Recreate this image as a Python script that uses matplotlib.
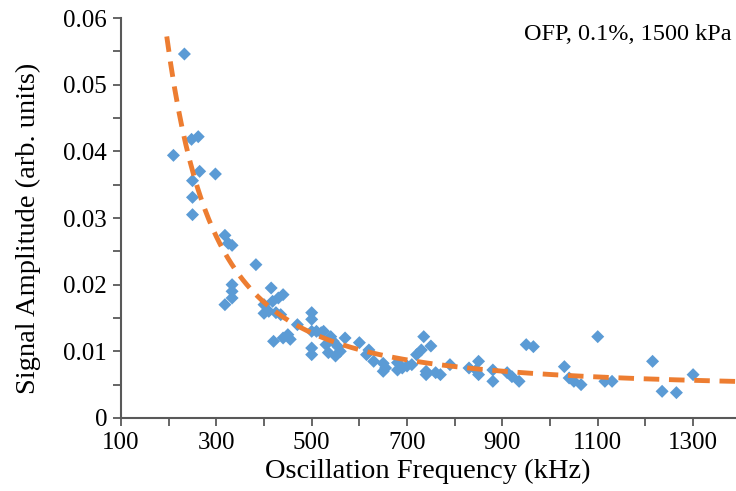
import matplotlib.pyplot as plt
import numpy as np

plt.rcParams['font.family'] = ['Liberation Serif', 'DejaVu Serif']

# measured points (kHz, arb. units)
freq = [210, 233, 248, 262, 250, 265, 250, 250, 298, 318, 325, 333, 318, 333, 333, 333,
        383, 400, 400, 410, 415, 418, 420, 425, 430, 435, 440, 440, 450, 455, 470,
        500, 500, 500, 500, 500, 510, 520, 525, 530, 535, 540, 545, 550, 555, 560, 570,
        600, 615, 620, 630, 650, 650, 655, 680, 680, 690, 700, 710, 720, 730, 735, 740,
        740, 750, 760, 770, 790, 830, 845, 850, 850, 880, 880, 910, 920, 935, 950, 965,
        1030, 1040, 1050, 1065, 1100, 1115, 1130, 1215, 1235, 1265, 1300]
amp = [0.0394, 0.0546, 0.0418, 0.0422, 0.0356, 0.0370, 0.0331, 0.0305, 0.0366, 0.0274,
       0.0262, 0.0259, 0.0170, 0.0200, 0.0190, 0.0180,
       0.0230, 0.0157, 0.0170, 0.0160, 0.0195, 0.0175, 0.0115, 0.0158, 0.0180, 0.0155,
       0.0185, 0.0120, 0.0125, 0.0118, 0.0140,
       0.0158, 0.0148, 0.0130, 0.0105, 0.0095, 0.0130, 0.0128, 0.0130, 0.0110, 0.0098,
       0.0122, 0.0115, 0.0093, 0.0107, 0.0100, 0.0120,
       0.0113, 0.0095, 0.0102, 0.0085, 0.0082, 0.0070, 0.0075, 0.0083, 0.0072, 0.0075,
       0.0078, 0.0080, 0.0095, 0.0102, 0.0122, 0.0065,
       0.0070, 0.0108, 0.0068, 0.0065, 0.0080, 0.0075, 0.0072, 0.0085, 0.0065, 0.0072,
       0.0055, 0.0068, 0.0062, 0.0055, 0.0110, 0.0107,
       0.0077, 0.0060, 0.0055, 0.0050, 0.0122, 0.0055, 0.0055, 0.0085, 0.0040, 0.0038,
       0.0065]

xticks = [100, 300, 500, 700, 900, 1100, 1300]
yticks = [0, 0.01, 0.02, 0.03, 0.04, 0.05, 0.06]
ylabels = ['0', '0.01', '0.02', '0.03', '0.04', '0.05', '0.06']

x = np.array(freq, dtype=float)
y = np.array(amp)

# trendline: least squares fit of y = a + b/x + c/x^2
A = np.column_stack([np.ones_like(x), 1 / x, 1 / x ** 2])
coef, *_ = np.linalg.lstsq(A, y, rcond=None)
xf = np.linspace(196, 1390, 300)
yf = coef[0] + coef[1] / xf + coef[2] / xf ** 2

fig = plt.figure(figsize=(7.36, 4.91), dpi=100)
ax = fig.add_axes([0.1644, 0.1487, 0.8356, 0.8146])

ax.scatter(x, y, marker='D', s=44, color='#5B9BD5', edgecolors='none', zorder=2)
ax.plot(xf, yf, color='#ED7D31', lw=3.5, dashes=(3.2, 2.0), zorder=3)

ax.set_xlim(100, 1390)
ax.set_ylim(0, 0.06)
ax.set_xticks(xticks)
ax.set_xticks(range(200, 1400, 200), minor=True)
ax.set_yticks(yticks)
ax.set_yticks(np.arange(0.005, 0.06, 0.01), minor=True)
ax.set_yticklabels(ylabels)

for s in ['top', 'right']:
    ax.spines[s].set_visible(False)
for s in ['left', 'bottom']:
    ax.spines[s].set_color('#595959')
    ax.spines[s].set_linewidth(1.5)
ax.tick_params(which='both', direction='out', color='#595959', width=1.3, length=6,
               labelsize=18, colors='#595959', labelcolor='black', pad=4)

ax.set_xlabel('Oscillation Frequency (kHz)', fontsize=20.5)
ax.set_ylabel('Signal Amplitude (arb. units)', fontsize=20.5)
ax.xaxis.set_label_coords(0.499, -0.102)
ax.yaxis.set_label_coords(-0.13, 0.475)
ax.text(0.993, 0.985, 'OFP, 0.1%, 1500 kPa', transform=ax.transAxes,
        ha='right', va='top', fontsize=17.5)

fig.savefig('out.png', dpi=100)
